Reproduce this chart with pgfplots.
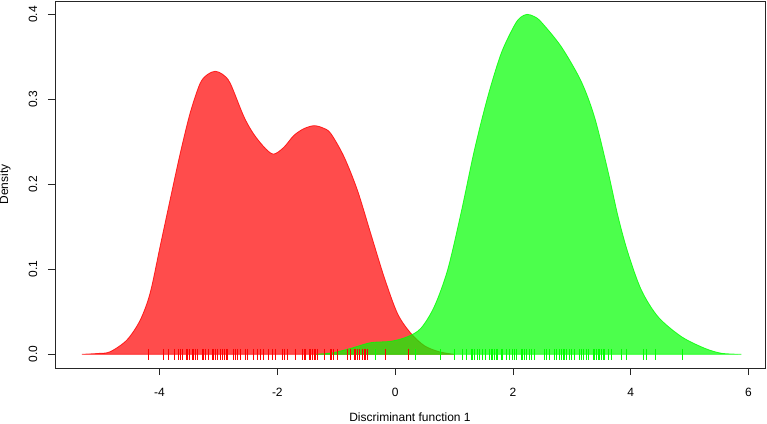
\documentclass[border=0pt]{standalone}
\usepackage{pgfplots}
\pgfplotsset{compat=1.18}
\usepackage{fontspec}
\setmainfont{Liberation Sans}

% density curves of the two groups
\pgfplotstableread{
x y
-5.32 0
-5.05 0.001
-4.84 0.003
-4.555 0.0168
-4.33 0.040
-4.16 0.072
-3.99 0.127
-3.82 0.182
-3.65 0.236
-3.48 0.284
-3.31 0.319
-3.18 0.3295
-3.055 0.333
-2.93 0.3295
-2.80 0.319
-2.57 0.280
-2.40 0.259
-2.20 0.242
-2.06 0.2356
-1.89 0.2435
-1.72 0.2575
-1.55 0.2655
-1.38 0.269
-1.23 0.2665
-1.094 0.260
-0.868 0.2325
-0.64 0.193
-0.414 0.142
-0.187 0.091
0.04 0.048
0.267 0.0247
0.50 0.010
0.75 0.003
1.00 0
}\redden
\pgfplotstableread{
x y
-1.345 0
-1.05 0.002
-0.754 0.007
-0.414 0.0137
-0.073 0.0153
0.21 0.0207
0.437 0.0306
0.664 0.056
0.89 0.099
1.118 0.166
1.345 0.240
1.573 0.303
1.80 0.354
2.025 0.387
2.13 0.3965
2.24 0.400
2.36 0.3975
2.48 0.391
2.82 0.362
3.16 0.321
3.39 0.278
3.615 0.215
3.785 0.162
3.955 0.119
4.18 0.0757
4.466 0.044
4.863 0.0207
5.26 0.007
5.544 0.0012
5.88 0
}\greenden

\begin{document}
\begin{tikzpicture}
\begin{axis}[
  name=ax,
  scale only axis,
  width=710pt, height=367pt,
  xmin=-5.775, xmax=6.28,
  ymin=-0.0161, ymax=0.4157,
  axis line style={draw=black!85, line width=0.8pt},
  xtick={-4,-2,0,2,4,6},
  xticklabels={-4,-2,0,2,4,6},
  ytick={0,0.1,0.2,0.3,0.4},
  yticklabels={0.0,0.1,0.2,0.3,0.4},
  tick align=outside,
  tick pos=left,
  major tick length=7pt,
  tick style={black!85, line width=0.8pt},
  tick label style={font=\fontsize{12}{14}\selectfont},
  xticklabel style={anchor=center},
  xticklabel shift=17pt,
  yticklabel style={rotate=90, anchor=center},
  yticklabel shift=15pt,
  label style={font=\fontsize{12}{14}\selectfont},
  xlabel={Discriminant function 1},
  ylabel={Density},
  xlabel style={at={(axis description cs:0.5,-0.1335)}, anchor=center},
  ylabel style={at={(axis description cs:-0.0704,0.5)}, anchor=center},
]
\addplot[smooth, draw=red, draw opacity=0.8, line width=0.8pt, fill=red, fill opacity=0.7]
  table {\redden} \closedcycle;
\addplot[smooth, draw=green, draw opacity=0.8, line width=0.8pt, fill=green, fill opacity=0.7]
  table {\greenden} \closedcycle;
% rug of group 1
\addplot[only marks, mark=|, mark size=5.4pt, red, mark options={line width=0.8pt}] coordinates {
(-4.187,0)(-3.932,0)(-3.847,0)(-3.750,0)(-3.677,0)(-3.648,0)(-3.619,0)(-3.551,0)
(-3.523,0)(-3.489,0)(-3.449,0)(-3.421,0)(-3.392,0)(-3.353,0)(-3.278,0)(-3.251,0)
(-3.222,0)(-3.166,0)(-3.108,0)(-3.081,0)(-3.052,0)(-3.013,0)(-2.967,0)(-2.938,0)
(-2.899,0)(-2.865,0)(-2.843,0)(-2.751,0)(-2.712,0)(-2.683,0)(-2.626,0)(-2.541,0)
(-2.512,0)(-2.400,0)(-2.342,0)(-2.286,0)(-2.230,0)(-2.145,0)(-2.087,0)(-2.031,0)
(-1.917,0)(-1.877,0)(-1.831,0)(-1.690,0)(-1.576,0)(-1.549,0)(-1.520,0)(-1.464,0)
(-1.435,0)(-1.406,0)(-1.379,0)(-1.350,0)(-1.321,0)(-1.209,0)(-1.106,0)(-1.077,0)
(-1.055,0)(-0.980,0)(-0.810,0)(-0.754,0)(-0.698,0)(-0.669,0)(-0.640,0)(-0.613,0)
(-0.555,0)(-0.528,0)(-0.499,0)(-0.470,0)(-0.158,0)(0.233,0)
};
% rug of group 2
\addplot[only marks, mark=|, mark size=5.4pt, green, mark options={line width=0.8pt}] coordinates {
(-0.329,0)(0.352,0)(0.777,0)(1.004,0)(1.147,0)(1.203,0)(1.288,0)(1.317,0)
(1.345,0)(1.403,0)(1.430,0)(1.488,0)(1.532,0)(1.600,0)(1.629,0)(1.658,0)
(1.685,0)(1.714,0)(1.743,0)(1.799,0)(1.828,0)(1.884,0)(1.940,0)(1.986,0)
(2.026,0)(2.054,0)(2.140,0)(2.169,0)(2.196,0)(2.225,0)(2.281,0)(2.310,0)
(2.366,0)(2.536,0)(2.565,0)(2.621,0)(2.706,0)(2.735,0)(2.791,0)(2.820,0)
(2.849,0)(2.877,0)(2.906,0)(2.962,0)(2.991,0)(3.047,0)(3.132,0)(3.161,0)
(3.190,0)(3.246,0)(3.275,0)(3.360,0)(3.387,0)(3.416,0)(3.446,0)(3.472,0)
(3.501,0)(3.530,0)(3.557,0)(3.615,0)(3.672,0)(3.842,0)(3.927,0)(4.211,0)
(4.267,0)(4.420,0)(4.875,0)
};
\end{axis}
\pgfresetboundingbox
\path ([shift={(-55pt,-55pt)}]ax.south west) rectangle ([shift={(2pt,1pt)}]ax.north east);
\end{tikzpicture}
\end{document}
